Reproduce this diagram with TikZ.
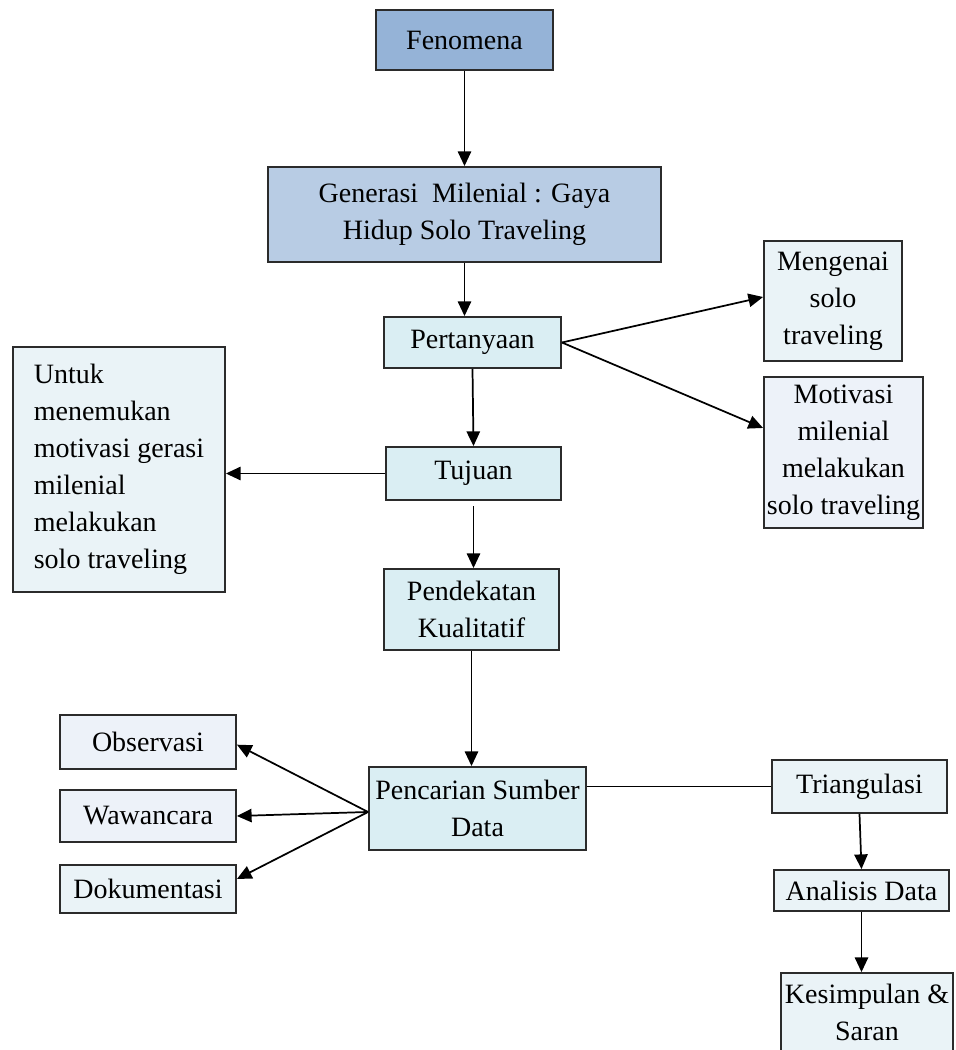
\documentclass[tikz,border=0pt]{standalone}
\usepackage{fontspec}
\setmainfont{Liberation Serif}
\usetikzlibrary{arrows.meta,calc}
\definecolor{cFen}{HTML}{95B3D7}
\definecolor{cGen}{HTML}{B8CCE4}
\definecolor{cCyan}{HTML}{DAEEF3}
\definecolor{cPale}{HTML}{EAF3F7}
\definecolor{cLav}{HTML}{EDF2F9}
\definecolor{boxline}{HTML}{2B2B2B}
\begin{document}
\begin{tikzpicture}[x=0.75pt,y=-0.75pt,
  box/.style={draw=boxline, line width=1.4pt, inner sep=0pt, align=center,
    font=\fontsize{21}{27.75}\selectfont},
  arr/.style={-{Triangle[length=11pt,width=10pt]}, line width=1.3pt},
  plain/.style={line width=1.3pt}]
\useasboundingbox (0,0) rectangle (956,1050);
\clip (0,0) rectangle (956,1050);

\node[box, fill=cFen, minimum width=132.75pt, minimum height=45pt] (fen) at (464.5,40) {Fenomena};
\node[box, fill=cGen, minimum width=294.75pt, minimum height=71.25pt] (gen) at (464.5,214.5) {Generasi\ \ Milenial : Gaya\\Hidup Solo Traveling};
\node[box, fill=cCyan, minimum width=132.75pt, minimum height=38.25pt] (per) at (472.5,342.5) {Pertanyaan};
\node[box, fill=cCyan, minimum width=131.25pt, minimum height=39.75pt] (tuj) at (473.5,473.5) {Tujuan};
\node[box, fill=cCyan, minimum width=131.25pt, minimum height=60.75pt] (pend) at (471.5,609.5) {Pendekatan\\Kualitatif};
\node[box, fill=cCyan, minimum width=162.75pt, minimum height=62.25pt] (penc) at (477.5,808.5) {Pencarian Sumber\\Data};
\node[box, fill=cPale, minimum width=159pt, minimum height=183.75pt, align=left] (unt) at (119,469.5) {Untuk\\menemukan\\motivasi gerasi\\milenial\\melakukan\\solo traveling};
\node[box, fill=cPale, minimum width=103.5pt, minimum height=90pt] (men) at (833,301) {Mengenai\\solo\\traveling};
\node[box, fill=cLav, minimum width=119.25pt, minimum height=113.25pt] (mot) at (843.5,452.5) {Motivasi\\milenial\\melakukan\\solo traveling};
\node[box, fill=cLav, minimum width=132pt, minimum height=40.5pt] (obs) at (148,742) {Observasi};
\node[box, fill=cLav, minimum width=132pt, minimum height=39pt] (waw) at (148,816) {Wawancara};
\node[box, fill=cPale, minimum width=132pt, minimum height=36pt] (dok) at (148,889) {Dokumentasi};
\node[box, fill=cPale, minimum width=131.25pt, minimum height=39.75pt] (tri) at (859.5,786.5) {Triangulasi};
\node[box, fill=cPale, minimum width=131.25pt, minimum height=30.75pt] (ana) at (861.5,890.5) {Analisis Data};
\node[box, fill=cPale, minimum width=129pt, minimum height=59.25pt] (kes) at (867,1012.5) {Kesimpulan \&\\Saran};

\draw[arr] (fen.south) -- (fen.south |- gen.north);
\draw[arr] (gen.south) -- (gen.south |- per.north);
\draw[arr] (per.south) -- (tuj.north);
\draw[arr, shorten <=4pt] (tuj.south) -- (tuj.south |- pend.north);
\draw[arr] (pend.south) -- (pend.south |- penc.north);
\draw[arr] (tuj.west) -- (tuj.west -| unt.east);
\draw[arr] (per.east) -- ([yshift=3pt]men.west);
\draw[arr] (per.east) -- ([yshift=18.4pt]mot.west);
\draw[arr] ([yshift=-2.6pt]penc.west) -- ([yshift=-2pt]obs.east);
\draw[arr] ([yshift=-2.6pt]penc.west) -- (waw.east);
\draw[arr] ([yshift=-2.6pt]penc.west) -- ([yshift=7.5pt]dok.east);
\draw[plain] (tri.west) -- (tri.west -| penc.east);
\draw[arr] (tri.south) -- (ana.north);
\draw[arr] (ana.south) -- (ana.south |- kes.north);
\end{tikzpicture}
\end{document}
